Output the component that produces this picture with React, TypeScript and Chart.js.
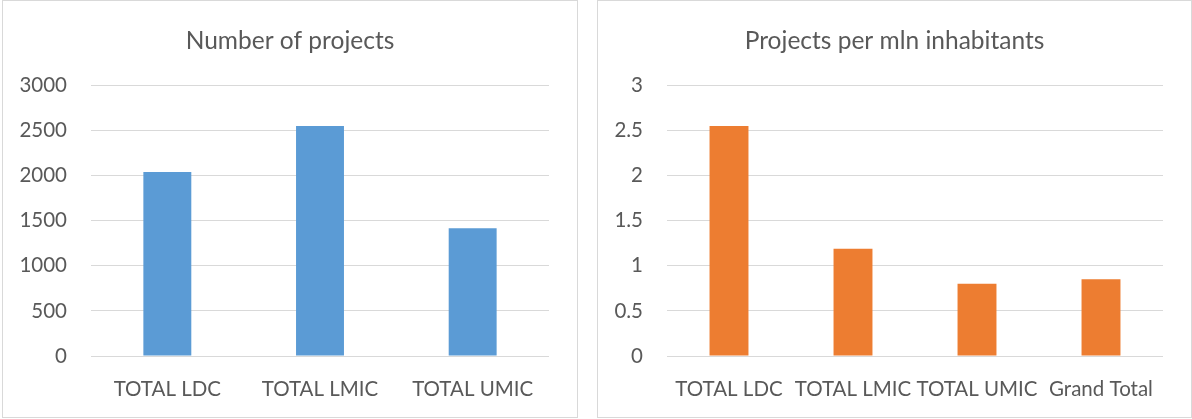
import React, { useEffect, useRef } from "react";
import { Chart, registerables } from "chart.js";

Chart.register(...registerables);

const leftTitle = "Number of projects";
const leftCategories = ["TOTAL LDC", "TOTAL LMIC", "TOTAL UMIC"];
const leftValues = [2040, 2550, 1415];
const leftMax = 3000;
const leftStep = 500;

const rightTitle = "Projects per mln inhabitants";
const rightCategories = ["TOTAL LDC", "TOTAL LMIC", "TOTAL UMIC", "Grand Total"];
const rightValues = [2.55, 1.19, 0.8, 0.85];
const rightMax = 3;
const rightStep = 0.5;

const FONT = "Lato, 'Open Sans', sans-serif";
const TEXT = "#595959";
const GRID = "#d9d9d9";

type PanelProps = {
  title: string;
  categories: string[];
  values: number[];
  max: number;
  step: number;
  color: string;
  width: number;
  height: number;
  yWidth: number;
  rightPad: number;
};

function Panel(p: PanelProps) {
  const ref = useRef<HTMLCanvasElement | null>(null);
  useEffect(() => {
    if (!ref.current) return;
    const chart = new Chart(ref.current, {
      type: "bar",
      data: {
        labels: p.categories,
        datasets: [
          {
            data: p.values,
            backgroundColor: p.color,
            borderWidth: 0,
            categoryPercentage: 0.314,
            barPercentage: 1,
          },
        ],
      },
      options: {
        responsive: false,
        animation: false,
        devicePixelRatio: 1,
        layout: { padding: 0 },
        plugins: {
          legend: { display: false },
          tooltip: { enabled: false },
          title: {
            display: true,
            text: p.title,
            color: TEXT,
            font: { family: FONT, size: 24.5, weight: "normal" },
            padding: { top: 25, bottom: 30 },
          },
        },
        scales: {
          x: {
            grid: { display: false, drawTicks: false },
            border: { display: false },
            ticks: {
              color: TEXT,
              font: { family: FONT, size: 20.5 },
              padding: 21,
              maxRotation: 0,
              autoSkip: false,
            },
            afterFit: (scale: any) => {
              scale.height = p.height - 355;
            },
          },
          y: {
            min: 0,
            max: p.max,
            grid: { color: GRID, lineWidth: 1, drawTicks: false },
            border: { display: false },
            ticks: {
              stepSize: p.step,
              color: TEXT,
              font: { family: FONT, size: 20.5 },
              padding: 24,
              callback: (v: any) => String(v),
            },
            afterFit: (scale: any) => {
              scale.width = p.yWidth;
            },
          },
          yRight: {
            position: "right",
            display: true,
            min: 0,
            max: p.max,
            grid: { display: false, drawTicks: false },
            border: { display: false },
            ticks: { display: false },
            afterFit: (scale: any) => {
              scale.width = p.rightPad;
            },
          },
        },
      },
    });
    return () => chart.destroy();
  }, []);
  return <canvas ref={ref} width={p.width} height={p.height} style={{ display: "block" }} />;
}

export default function App() {
  return (
    <div style={{ position: "absolute", left: 0, top: 0, width: 1192, height: 419, background: "#fff" }}>
      <div
        style={{
          position: "absolute",
          left: 2,
          top: 0,
          width: 576,
          height: 418,
          border: `1px solid ${GRID}`,
          boxSizing: "border-box",
        }}
      >
        <Panel
          title={leftTitle}
          categories={leftCategories}
          values={leftValues}
          max={leftMax}
          step={leftStep}
          color="#5B9BD5"
          width={574}
          height={416}
          yWidth={88}
          rightPad={28}
        />
      </div>
      <div
        style={{
          position: "absolute",
          left: 597,
          top: 0,
          width: 595,
          height: 418,
          border: `1px solid ${GRID}`,
          boxSizing: "border-box",
        }}
      >
        <Panel
          title={rightTitle}
          categories={rightCategories}
          values={rightValues}
          max={rightMax}
          step={rightStep}
          color="#ED7D31"
          width={593}
          height={416}
          yWidth={69}
          rightPad={28}
        />
      </div>
    </div>
  );
}
